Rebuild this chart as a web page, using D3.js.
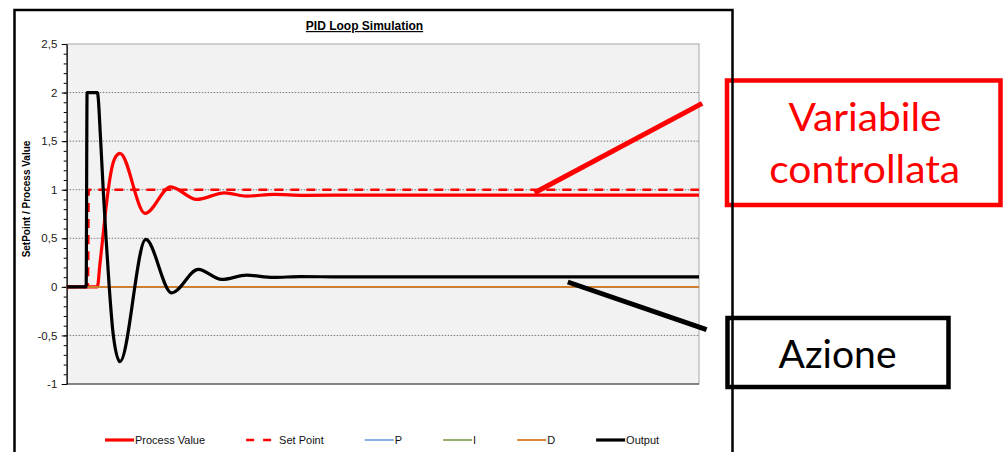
<!DOCTYPE html>
<html>
<head>
<meta charset="utf-8">
<script src="https://cdn.jsdelivr.net/npm/d3@7"></script>
<style>
  body { margin: 0; background: #fff; }
  svg { display: block; }
</style>
</head>
<body>
<svg id="chart" width="1003" height="452"></svg>
<script>
// ---- Simulation traces (time in samples, value in setpoint units) ----
const pvTime   = [0, 19.4, 21, 22.8, 24.5, 26.3, 28.5, 31, 33.7, 49.6, 65.8, 82.2, 100, 113.8, 131, 150, 170, 400];
const pvValue  = [0, 0, 0.23, 0.5, 0.76, 1.0, 1.22, 1.34, 1.375, 0.756, 1.03, 0.90, 0.968, 0.934, 0.952, 0.942, 0.944, 0.944];

const spTime   = [0, 13.4, 13.9, 400];
const spValue  = [0, 0, 1, 1];

const outTime  = [0, 12.3, 12.9, 19.4, 21.5, 23.1, 24.9, 26.9, 29.5, 33.7, 50, 66.4, 83.2, 98, 113.8, 130.7, 148, 170, 400];
const outValue = [0, 0, 2, 2, 1.5, 1.0, 0.5, 0.0, -0.5, -0.77, 0.488, -0.062, 0.179, 0.076, 0.12, 0.097, 0.106, 0.103, 0.103];

const termTime = [0, 400];
const pValue   = [0, 0];
const iValue   = [0, 0];
const dValue   = [0, 0];

const seriesNames = ["Process Value", "Set Point", "P", "I", "D", "Output"];

// ---- Axis ticks ----
const yTicks      = [-1, -0.5, 0, 0.5, 1, 1.5, 2, 2.5];
const yTickLabels = ["-1", "-0,5", "0", "0,5", "1", "1,5", "2", "2,5"];
const yMinorTicks = d3.range(-10, 26).map(d => d / 10);
const gridValues  = [-0.5, 0, 0.5, 1, 1.5, 2];

// ---- Callout pointers (data coordinates) ----
const pvPointer  = [[296, 0.968], [402, 1.889]];
const outPointer = [[317, 0.05], [404.8, -0.44]];

const svg = d3.select("#chart");
const plot = { left: 66.7, right: 699, top: 44, bottom: 384 };

const x = d3.scaleLinear().domain([0, 400]).range([plot.left, plot.right]);
const y = d3.scaleLinear().domain([-1, 2.5]).range([plot.bottom, plot.top]);

const zip = (ts, vs) => ts.map((t, i) => ({ t, v: vs[i] }));

const styles = [
  { data: zip(pvTime, pvValue),    color: "#ff0000", width: 3.2, dash: null,  legendDash: null },
  { data: zip(spTime, spValue),    color: "#ff0000", width: 2.6, dash: "9,7", legendDash: "8,9" },
  { data: zip(termTime, pValue),   color: "#6a9fdc", width: 1.6, dash: null,  legendDash: null },
  { data: zip(termTime, iValue),   color: "#7d9a47", width: 1.6, dash: null,  legendDash: null },
  { data: zip(termTime, dValue),   color: "#d97b27", width: 1.8, dash: null,  legendDash: null },
  { data: zip(outTime, outValue),  color: "#000000", width: 3.2, dash: null,  legendDash: null }
];

// ---- Callout boxes (drawn beneath the chart frame) ----
svg.append("rect")
  .attr("x", 727).attr("y", 80.5).attr("width", 273.5).attr("height", 124.5)
  .attr("fill", "none").attr("stroke", "#ff0000").attr("stroke-width", 4.5);
svg.append("rect")
  .attr("x", 727.5).attr("y", 318).attr("width", 221).attr("height", 69)
  .attr("fill", "none").attr("stroke", "#000").attr("stroke-width", 4.5);

const calloutFont = "Lato, 'Open Sans', sans-serif";
svg.append("text").attr("x", 865).attr("y", 130.7)
  .attr("text-anchor", "middle").attr("font-family", calloutFont).attr("font-size", 38)
  .attr("fill", "#ff0000").attr("textLength", 153).attr("lengthAdjust", "spacingAndGlyphs")
  .text("Variabile");
svg.append("text").attr("x", 864.7).attr("y", 183.3)
  .attr("text-anchor", "middle").attr("font-family", calloutFont).attr("font-size", 38)
  .attr("fill", "#ff0000").attr("textLength", 191).attr("lengthAdjust", "spacingAndGlyphs")
  .text("controllata");
svg.append("text").attr("x", 837.5).attr("y", 368.3)
  .attr("text-anchor", "middle").attr("font-family", calloutFont).attr("font-size", 38)
  .attr("fill", "#000").attr("textLength", 118).attr("lengthAdjust", "spacingAndGlyphs")
  .text("Azione");

// ---- Plot area ----
svg.append("rect")
  .attr("x", plot.left).attr("y", plot.top)
  .attr("width", plot.right - plot.left).attr("height", plot.bottom - plot.top)
  .attr("fill", "#f2f2f2").attr("stroke", "#a6a6a6").attr("stroke-width", 1);

svg.append("g").selectAll("line").data(gridValues).join("line")
  .attr("x1", plot.left).attr("x2", plot.right)
  .attr("y1", d => y(d)).attr("y2", d => y(d))
  .attr("stroke", "#7a7a7a").attr("stroke-width", 1).attr("stroke-dasharray", "1.5,1.5");

// bottom edge of the plot
svg.append("line")
  .attr("x1", plot.left).attr("x2", plot.right)
  .attr("y1", plot.bottom).attr("y2", plot.bottom)
  .attr("stroke", "#3a3a3a").attr("stroke-width", 1);

// minor ticks
svg.append("g").attr("transform", `translate(${plot.left},0)`)
  .call(d3.axisLeft(y).tickValues(yMinorTicks).tickSize(3).tickFormat("").tickSizeOuter(0))
  .call(g => g.select(".domain").remove())
  .call(g => g.selectAll("line").attr("stroke", "#000"));

// major ticks and labels
svg.append("g").attr("transform", `translate(${plot.left},0)`)
  .call(d3.axisLeft(y).tickValues(yTicks).tickFormat((d, i) => yTickLabels[i])
    .tickSize(5).tickPadding(4.4).tickSizeOuter(0))
  .call(g => g.select(".domain").attr("stroke", "#000").attr("stroke-width", 1.2))
  .call(g => g.selectAll("line").attr("stroke", "#000"))
  .call(g => g.selectAll("text")
    .attr("font-family", "'Liberation Sans', Arial, sans-serif")
    .attr("font-size", 11.5).attr("fill", "#1a1a1a"));

// ---- Series ----
const line = d3.line().x(d => x(d.t)).y(d => y(d.v)).curve(d3.curveMonotoneX);
svg.append("g").selectAll("path").data(styles).join("path")
  .attr("d", d => line(d.data))
  .attr("fill", "none")
  .attr("stroke", d => d.color)
  .attr("stroke-width", d => d.width)
  .attr("stroke-dasharray", d => d.dash)
  .attr("stroke-linejoin", "round");

// ---- Callout pointers ----
svg.append("line")
  .attr("x1", x(pvPointer[0][0])).attr("y1", y(pvPointer[0][1]))
  .attr("x2", x(pvPointer[1][0])).attr("y2", y(pvPointer[1][1]))
  .attr("stroke", "#ff0000").attr("stroke-width", 5);
svg.append("line")
  .attr("x1", x(outPointer[0][0])).attr("y1", y(outPointer[0][1]))
  .attr("x2", x(outPointer[1][0])).attr("y2", y(outPointer[1][1]))
  .attr("stroke", "#000").attr("stroke-width", 5);

// ---- Titles ----
svg.append("text")
  .attr("x", 364.5).attr("y", 30)
  .attr("text-anchor", "middle")
  .attr("font-family", "'Liberation Sans', Arial, sans-serif")
  .attr("font-size", 12).attr("font-weight", "bold")
  .style("text-decoration", "underline")
  .text("PID Loop Simulation");

svg.append("text")
  .attr("transform", "translate(30,199) rotate(-90)")
  .attr("text-anchor", "middle")
  .attr("font-family", "'Liberation Sans', Arial, sans-serif")
  .attr("font-size", 10).attr("font-weight", "bold")
  .text("SetPoint / Process Value");

// ---- Legend ----
const legend = svg.append("g").attr("font-family", "'Liberation Sans', Arial, sans-serif").attr("font-size", 11);
let lx = 105;
const ly = 440;
styles.forEach((s, i) => {
  legend.append("line")
    .attr("x1", lx).attr("x2", lx + 29).attr("y1", ly).attr("y2", ly)
    .attr("stroke", s.color)
    .attr("stroke-width", s.width)
    .attr("stroke-dasharray", s.legendDash);
  const t = legend.append("text")
    .attr("x", lx + 30 + (s.legendDash ? 3 : 0)).attr("y", ly).attr("dy", "0.35em")
    .attr("fill", "#111")
    .text(seriesNames[i]);
  lx += 30 + (s.legendDash ? 3 : 0) + t.node().getComputedTextLength() + 41;
});

// ---- Chart frame ----
svg.append("rect")
  .attr("x", 14.5).attr("y", 10).attr("width", 718).attr("height", 460)
  .attr("fill", "none").attr("stroke", "#000").attr("stroke-width", 2.5);
</script>
</body>
</html>
